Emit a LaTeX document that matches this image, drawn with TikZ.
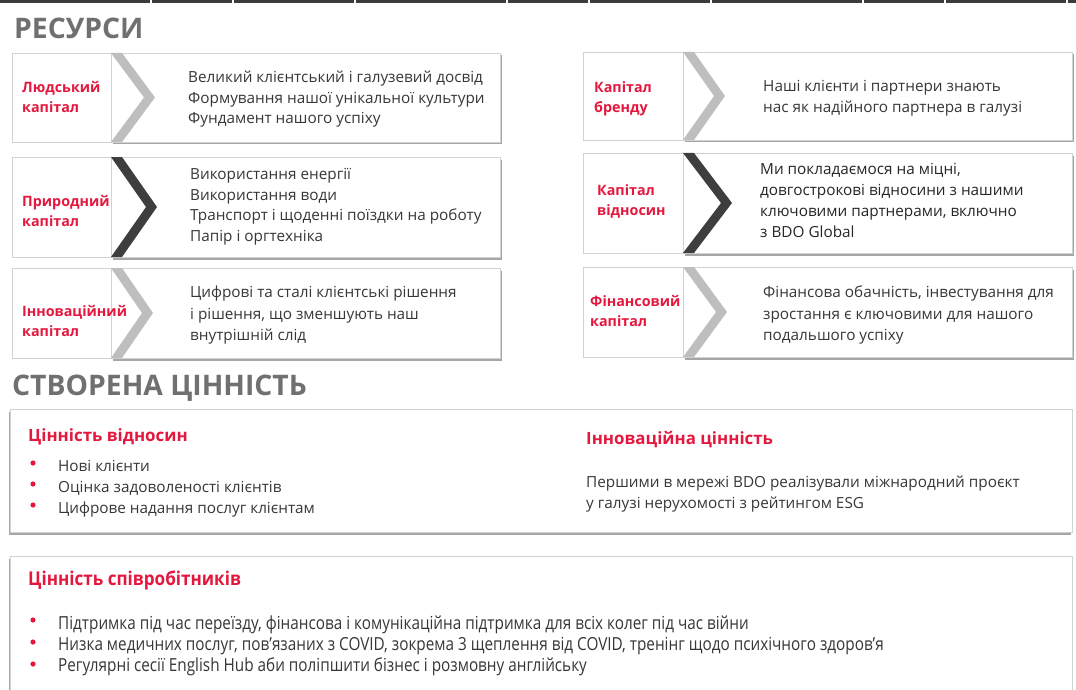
\documentclass[tikz,border=0pt]{standalone}
\usepackage{fontspec}
\setmainfont{Open Sans}
\usetikzlibrary{shadows}
\definecolor{bdored}{RGB}{228,24,62}
\definecolor{headgray}{RGB}{112,112,112}
\definecolor{txtgray}{RGB}{55,55,55}
\definecolor{chevlight}{RGB}{190,190,190}
\definecolor{chevdark}{RGB}{62,62,62}
\definecolor{edgegray}{RGB}{210,210,210}
\definecolor{topline}{RGB}{60,60,60}
\tikzset{
  heading/.style={anchor=base west, inner sep=0, text=headgray, font=\bfseries\fontsize{28.3}{34}\selectfont},
  caplabel/.style={anchor=base west, inner sep=0, align=left, text=bdored, font=\bfseries\fontsize{14.3}{20}\selectfont},
  desc/.style={anchor=base west, inner sep=0, align=left, text=txtgray, font=\fontsize{15.3}{20.6}\selectfont},
  valtitle/.style={anchor=base west, inner sep=0, text=bdored, font=\bfseries\fontsize{16.9}{20}\selectfont},
  condtitle/.style={anchor=base west, inner sep=0, text=bdored, font=\bfseries\fontsize{19}{22}\selectfont},
  condtext/.style={anchor=base west, inner sep=0, text=txtgray, font=\fontsize{18}{21}\selectfont},
  boxshadow/.style={drop shadow={shadow xshift=2pt, shadow yshift=-2.5pt, opacity=0.35, fill=black}},
  valshadow/.style={drop shadow={shadow xshift=-1.5pt, shadow yshift=-2.5pt, opacity=0.35, fill=black}},
  bullet/.style={fill=bdored},
}
% #1 L, #2 T, #3 B, #4 C (chevron top x), #5 P (tip x), #6 R, #7 colour, #8 band width
\newcommand\resbox[8]{%
  \path[fill=white, draw=edgegray, line width=0.5, boxshadow] (#4,#2) rectangle (#6,#3);
  \path[fill=white, draw=edgegray, line width=0.9] (#4,#2) -- (#1,#2) -- (#1,#3) -- (#4,#3);
  \fill[#7] (#4,#2) -- (#4+#8,#2) -- (#5+#8,{(#2+#3)/2}) -- (#4+#8,#3) -- (#4,#3) -- (#5,{(#2+#3)/2}) -- cycle;
}
\begin{document}
\begin{tikzpicture}[x=1pt,y=-1pt]
\useasboundingbox[fill=white] (0,0) rectangle (1076,690);
\draw[topline, line width=2.5, dash pattern=on 150 off 2 on 80 off 2 on 120 off 2] (0,1.5) -- (1076,1.5);

\node[heading] (hres) at (14,39) {РЕСУРСИ};

% left column
\resbox{12}{53}{142}{111}{144}{500}{chevlight}{11}
\resbox{12}{157}{257}{111}{146}{500}{chevdark}{11}
\resbox{12}{268}{358}{111}{142}{500}{chevlight}{11}
% right column
\resbox{583}{52}{140}{683}{714}{1072}{chevlight}{11}
\resbox{583}{153}{253}{683}{721}{1072}{chevdark}{11}
\resbox{583}{267}{357}{683}{716}{1072}{chevlight}{11}

% base anchor of a multi-line node = baseline of its last line
\node[caplabel] (l1) at (22,113) {Людський\\капітал};
\node[desc] (d1) at (188,123.7) {Великий клієнтський і галузевий досвід\\Формування нашої унікальної культури\\Фундамент нашого успіху};
\node[caplabel] (l2) at (22,226.5) {Природний\\капітал};
\node[desc] (d2) at (190,241.3) {Використання енергії\\Використання води\\Транспорт і щоденні поїздки на роботу\\Папір і оргтехніка};
\node[caplabel] (l3) at (22,336.5) {Інноваційний\\капітал};
\node[desc, font=\fontsize{15.3}{21.5}\selectfont] (d3) at (190,340.5) {Цифрові та сталі клієнтські рішення\\і рішення, що зменшують наш\\внутрішній слід};

\node[caplabel] (l4) at (594,112.5) {Капітал\\бренду};
\node[desc] (d4) at (763,112.1) {Наші клієнти і партнери знають\\нас як надійного партнера в галузі};
\node[caplabel] (l5) at (597,215.5) {Капітал\\відносин};
\node[desc, text=black!85, font=\fontsize{15.3}{21}\selectfont] (d5) at (760,237.5) {Ми покладаємося на міцні,\\довгострокові відносини з нашими\\ключовими партнерами, включно\\з BDO Global};
\node[caplabel] (l6) at (590,326.5) {Фінансовий\\капітал};
\node[desc, font=\fontsize{15.3}{21.5}\selectfont] (d6) at (763,340.5) {Фінансова обачність, інвестування для\\зростання є ключовими для нашого\\подальшого успіху};

\node[heading] (hval) at (12,395) {СТВОРЕНА ЦІННІСТЬ};

% value box 1
\path[fill=white, draw=edgegray, line width=0.5, valshadow] (10,409) rectangle (1072,532);
\node[valtitle] (v1t) at (28,441) {Цінність відносин};
\fill[bullet] (33,463) circle (2.6);
\fill[bullet] (33,484) circle (2.6);
\fill[bullet] (33,505) circle (2.6);
\node[desc, font=\fontsize{15.3}{21}\selectfont] (v1b) at (58,513.5) {Нові клієнти\\Оцінка задоволеності клієнтів\\Цифрове надання послуг клієнтам};
\node[valtitle] (v2t) at (586,444) {Інноваційна цінність};
\node[desc] (v2b) at (586,508.1) {Першими в мережі BDO реалізували міжнародний проєкт\\у галузі нерухомості з рейтингом ESG};

% value box 2
\path[fill=white, draw=edgegray, line width=0.5, valshadow] (10,556) rectangle (1072,720);
\node[condtitle] (v3t) at (28,585) {\scalebox{0.9}[1]{Цінність співробітників}};
\fill[bullet] (33,620) circle (2.6);
\fill[bullet] (33,642) circle (2.6);
\fill[bullet] (33,664) circle (2.6);
\node[condtext] (v3a) at (58,629.5) {\scalebox{0.85}[1]{Підтримка під час переїзду, фінансова і комунікаційна підтримка для всіх колег під час війни}};
\node[condtext] (v3b) at (58,650.5) {\scalebox{0.85}[1]{Низка медичних послуг, пов'язаних з COVID, зокрема 3 щеплення від COVID, тренінг щодо психічного здоров'я}};
\node[condtext] (v3c) at (58,671.5) {\scalebox{0.85}[1]{Регулярні сесії English Hub аби поліпшити бізнес і розмовну англійську}};
\end{tikzpicture}
\end{document}
